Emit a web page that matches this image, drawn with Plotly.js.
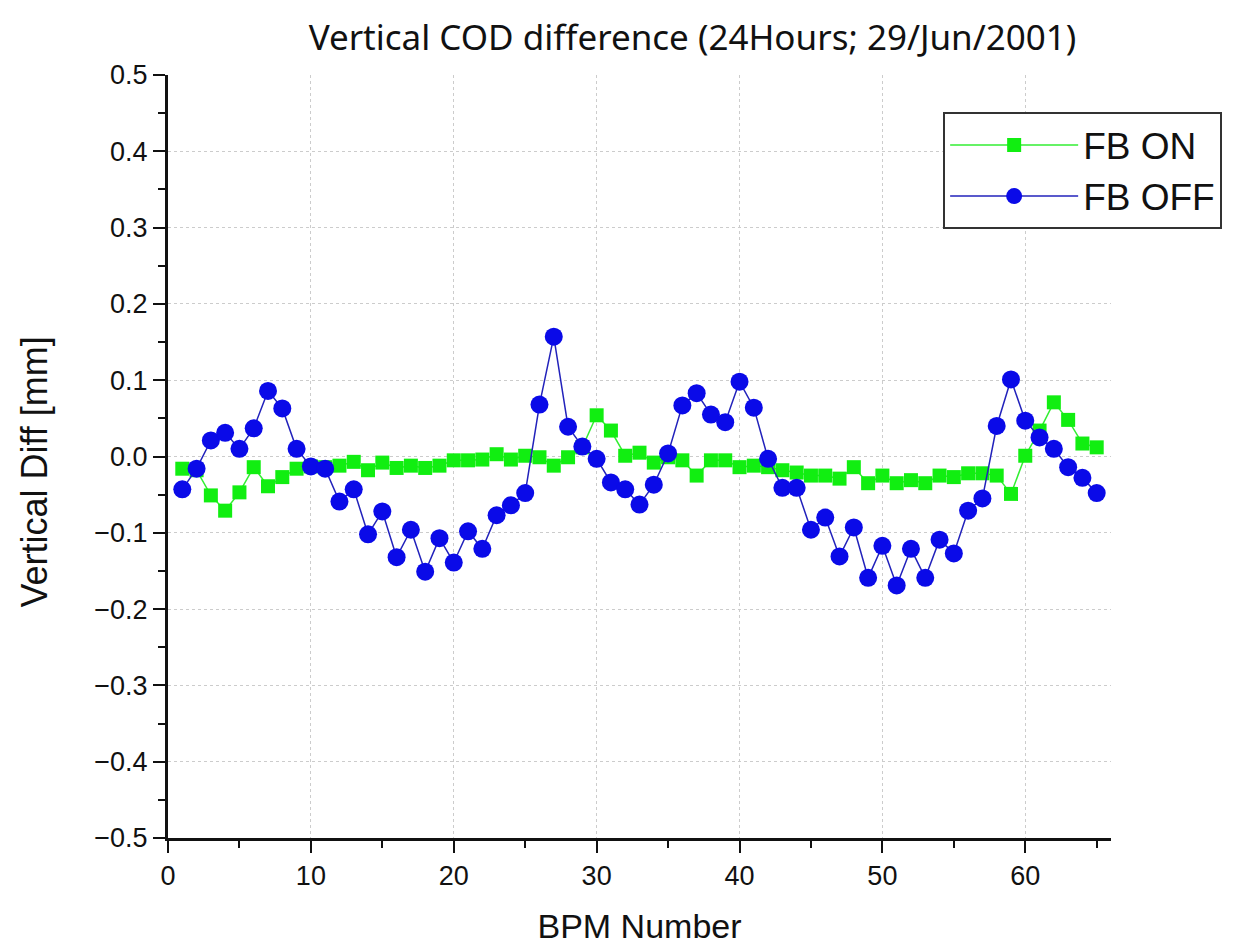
<!DOCTYPE html>
<html>
<head>
<meta charset="utf-8">
<script src="https://cdn.plot.ly/plotly-3.0.1.min.js"></script>
<style>html,body{margin:0;padding:0;background:#fff;}#chart{width:1250px;height:950px;}</style>
</head>
<body>
<div id="chart"></div>
<script>
const bpm = [];
for (let i = 1; i <= 65; i++) bpm.push(i);

const fbOn = [-0.016, -0.018, -0.051, -0.071, -0.047, -0.014, -0.039, -0.027, -0.016, -0.013,
  -0.014, -0.012, -0.007, -0.018, -0.008, -0.015, -0.012, -0.015, -0.012, -0.005,
  -0.005, -0.004, 0.003, -0.004, 0.001, -0.001, -0.012, -0.001, 0.012, 0.054,
  0.034, 0.001, 0.005, -0.008, -0.001, -0.005, -0.025, -0.005, -0.005, -0.014,
  -0.012, -0.014, -0.018, -0.021, -0.025, -0.025, -0.029, -0.014, -0.035, -0.025,
  -0.035, -0.031, -0.035, -0.025, -0.027, -0.022, -0.022, -0.025, -0.049, 0.001,
  0.034, 0.071, 0.048, 0.017, 0.012];

const fbOff = [-0.043, -0.016, 0.021, 0.031, 0.010, 0.037, 0.086, 0.063, 0.010, -0.013,
  -0.016, -0.059, -0.043, -0.102, -0.072, -0.132, -0.096, -0.151, -0.107, -0.139,
  -0.098, -0.121, -0.077, -0.064, -0.048, 0.068, 0.157, 0.039, 0.013, -0.003,
  -0.034, -0.043, -0.063, -0.037, 0.004, 0.067, 0.083, 0.055, 0.045, 0.098,
  0.064, -0.003, -0.041, -0.041, -0.096, -0.080, -0.131, -0.093, -0.159, -0.117,
  -0.169, -0.121, -0.159, -0.109, -0.127, -0.071, -0.055, 0.040, 0.101, 0.047,
  0.025, 0.010, -0.014, -0.028, -0.048];

const yTickVals = [-0.5, -0.4, -0.3, -0.2, -0.1, 0.0, 0.1, 0.2, 0.3, 0.4, 0.5];
const yTickText = ["\u22120.5", "\u22120.4", "\u22120.3", "\u22120.2", "\u22120.1", "0.0", "0.1", "0.2", "0.3", "0.4", "0.5"];
const xTickVals = [0, 10, 20, 30, 40, 50, 60];
const xTickText = ["0", "10", "20", "30", "40", "50", "60"];

const seriesNames = ["FB ON", "FB OFF"];
const titleText = "Vertical COD difference (24Hours; 29/Jun/2001)";
const xTitle = "BPM Number";
const yTitle = "Vertical Diff [mm]";

const fontFam = "Liberation Sans, Arial, sans-serif";
const titleFam = "Noto Sans, Liberation Sans, Arial, sans-serif";

const traces = [
  {
    x: bpm, y: fbOn, name: seriesNames[0], type: 'scatter', mode: 'lines+markers',
    line: {color: '#33ee33', width: 1.5},
    marker: {symbol: 'square', size: 14, color: '#11ee11'}
  },
  {
    x: bpm, y: fbOff, name: seriesNames[1], type: 'scatter', mode: 'lines+markers',
    line: {color: '#2222bb', width: 1.5},
    marker: {symbol: 'circle', size: 18, color: '#0a0ae8'}
  }
];

const layout = {
  width: 1250, height: 950,
  margin: {l: 168, r: 139, t: 75, b: 112},
  paper_bgcolor: '#ffffff', plot_bgcolor: '#ffffff',
  showlegend: true,
  title: {
    text: titleText, font: {family: titleFam, size: 35, color: '#111'},
    x: 0.554, xref: 'container', xanchor: 'center', y: 0.96, yref: 'container', yanchor: 'middle'
  },
  xaxis: {
    range: [0, 66], tickmode: 'array', tickvals: xTickVals, ticktext: xTickText,
    showline: true, linecolor: '#111', linewidth: 3, mirror: false,
    ticks: 'outside', ticklen: 12, tickwidth: 2, tickcolor: '#111',
    minor: {dtick: 5, tick0: 0, ticks: 'outside', ticklen: 7, tickwidth: 2, tickcolor: '#111', showgrid: false},
    showgrid: true, gridcolor: '#cccccc', griddash: 'dot', gridwidth: 1,
    zeroline: false,
    tickfont: {family: fontFam, size: 27, color: '#111'},
    title: {text: xTitle, font: {family: fontFam, size: 34, color: '#111'}, standoff: 24}
  },
  yaxis: {
    range: [-0.5, 0.5], tickmode: 'array', tickvals: yTickVals, ticktext: yTickText,
    showline: true, linecolor: '#111', linewidth: 3, mirror: false,
    ticks: 'outside', ticklen: 12, tickwidth: 2, tickcolor: '#111',
    minor: {dtick: 0.05, tick0: 0, ticks: 'outside', ticklen: 7, tickwidth: 2, tickcolor: '#111', showgrid: false},
    showgrid: true, gridcolor: '#cccccc', griddash: 'dot', gridwidth: 1,
    zeroline: false,
    tickfont: {family: fontFam, size: 27, color: '#111'}
  },
  annotations: [
    {
      text: yTitle, textangle: -90, showarrow: false,
      xref: 'paper', x: -0.142, xanchor: 'center',
      yref: 'paper', y: 0.479, yanchor: 'middle',
      font: {family: fontFam, size: 36, color: '#111'}
    }
  ],
  legend: {
    x: 0.822, y: 0.951, xanchor: 'left', yanchor: 'top',
    bgcolor: '#ffffff', bordercolor: '#333333', borderwidth: 2,
    font: {family: fontFam, size: 37, color: '#111'},
    itemwidth: 128, tracegroupgap: 0
  }
};

Plotly.newPlot('chart', traces, layout, {displayModeBar: false, staticPlot: true});
</script>
</body>
</html>
